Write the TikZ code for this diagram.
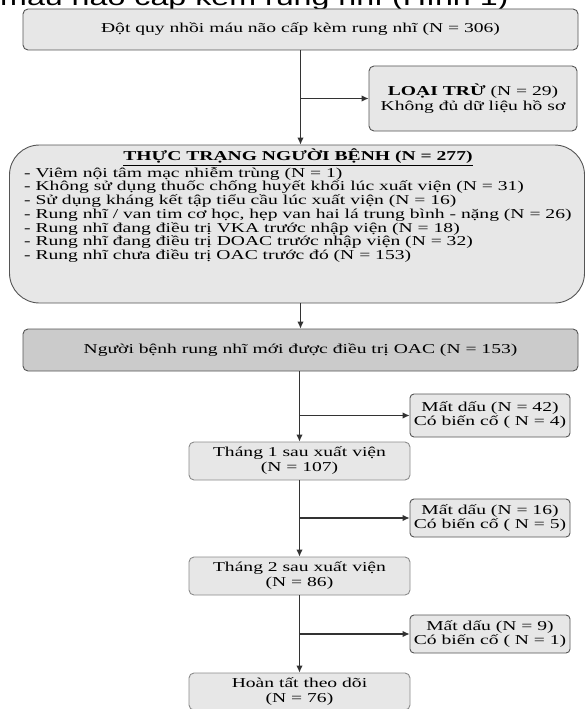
\documentclass[tikz,border=0pt]{standalone}
\usepackage{fontspec}
\setmainfont[FakeStretch=1.44]{Liberation Serif}
\newfontfamily\titlefont[FakeStretch=1.4]{Liberation Sans}
\usetikzlibrary{arrows.meta}
\definecolor{boxfill}{HTML}{E7E7E7}
\definecolor{darkfill}{HTML}{CBCBCB}
\definecolor{edge}{HTML}{555555}
\definecolor{lightedge}{HTML}{8C8C8C}
\tikzset{
  box/.style={draw=edge, line width=0.9pt, fill=boxfill, rounded corners=5pt, inner sep=0pt, align=center,
    font=\fontsize{13.6}{16}\selectfont},
  lbox/.style={box, draw=lightedge},
  arr/.style={draw=black!80, line width=1.1pt, -{Latex[length=7pt,width=6.5pt]}},
  txt/.style={inner sep=0pt, font=\fontsize{13.6}{13.7}\selectfont}
}
\begin{document}
\begin{tikzpicture}[x=1pt,y=-1pt]
\useasboundingbox (0,0) rectangle (587,709);
\clip (0,0) rectangle (587,709);
\fill[white] (0,0) rectangle (587,709);
\node[inner sep=0pt, anchor=base west, font=\titlefont\fontsize{23}{25}\selectfont] (title) at (0,6) {máu não cấp kèm rung nhĩ (Hình 1)};

\node[box, minimum width=555pt, minimum height=41pt] (b1) at (300.5,29.5) {Đột quy nhồi máu não cấp kèm rung nhĩ (N = 306)};
\node[box, minimum width=208pt, minimum height=65pt] (ex1) at (473,98.5) {\textbf{LOẠI TRỪ} (N = 29)\\[-1pt] Không đủ dữ liệu hồ sơ};

\node[box, rounded corners=30pt, minimum width=575pt, minimum height=158pt] (b2) at (297,224) {};
\node[txt, font=\fontsize{13.6}{13.7}\selectfont\bfseries] (b2title) at (298,157) {\underline{THỰC TRẠNG NGƯỜI BỆNH (N = 277)}};
\node[txt, align=left, anchor=north west] (b2list) at (24,167) {- Viêm nội tâm mạc nhiễm trùng (N = 1)\\
- Không sử dụng thuốc chống huyết khối lúc xuất viện (N = 31)\\
- Sử dụng kháng kết tập tiểu cầu lúc xuất viện (N = 16)\\
- Rung nhĩ / van tim cơ học, hẹp van hai lá trung bình - nặng (N = 26)\\
- Rung nhĩ đang điều trị VKA trước nhập viện (N = 18)\\
- Rung nhĩ đang điều trị DOAC trước nhập viện (N = 32)\\
- Rung nhĩ chưa điều trị OAC trước đó (N = 153)};

\node[box, fill=darkfill, minimum width=555pt, minimum height=42pt] (b3) at (300.5,350) {Người bệnh rung nhĩ mới được điều trị OAC (N = 153)};

\node[box, rounded corners=4pt, minimum width=160pt, minimum height=43pt] (ex2) at (490,415.5) {Mất dấu (N = 42)\\[-2pt] Có biến cố ( N = 4)};
\node[lbox, minimum width=221pt, minimum height=38pt] (b4) at (299.5,461) {Tháng 1 sau xuất viện\\[-1pt] (N = 107)};
\node[box, rounded corners=4pt, minimum width=160pt, minimum height=38pt] (ex3) at (490,518) {Mất dấu (N = 16)\\[-2pt] Có biến cố ( N = 5)};
\node[lbox, minimum width=221pt, minimum height=38pt] (b5) at (299.5,576) {Tháng 2 sau xuất viện\\[-1pt] (N = 86)};
\node[box, rounded corners=4pt, minimum width=160pt, minimum height=38pt] (ex4) at (490,634) {Mất dấu (N = 9)\\[-2pt] Có biến cố ( N = 1)};
\node[lbox, minimum width=221pt, minimum height=37pt] (b6) at (299.5,691.5) {Hoàn tất theo dõi\\[-1pt] (N = 76)};

\draw[arr] (b1.south) -- (b1.south |- b2.north);
\draw[arr] (b1.south |- ex1.west) -- (ex1.west);
\draw[arr] (b1.south |- b2.south) -- (b1.south |- b3.north);
\draw[arr] (b3.south -| b4.north) -- (b4.north);
\draw[arr] (b4.north |- ex2.west) -- (ex2.west);
\draw[arr] (b4.south) -- (b5.north);
\draw[arr] (b4.south |- ex3.west) -- (ex3.west);
\draw[arr] (b5.south) -- (b6.north);
\draw[arr] (b5.south |- ex4.west) -- (ex4.west);
\end{tikzpicture}
\end{document}
